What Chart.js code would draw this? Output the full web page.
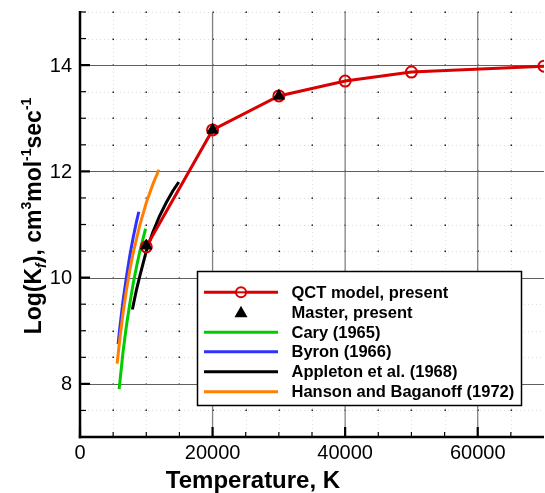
<!DOCTYPE html>
<html>
<head>
<meta charset="utf-8">
<script src="https://cdn.jsdelivr.net/npm/chart.js@4"></script>
<style>
  html, body { margin: 0; padding: 0; background: #fff; }
  #wrap { width: 545px; height: 493px; }
</style>
</head>
<body>
<div id="wrap"><canvas id="myChart" width="545" height="493"></canvas></div>
<script>
// data
const qctT = [10000, 20000, 30000, 40000, 50000, 70000];
const qctK = [10.58, 12.78, 13.42, 13.70, 13.87, 13.98];

const masterT = [10000, 20000, 30000];
const masterK = [10.60, 12.78, 13.42];

const caryT = [5900, 6500, 7000, 7500, 8000, 8500, 9000, 9500, 9900];
const caryK = [7.90, 8.61, 9.09, 9.50, 9.87, 10.19, 10.48, 10.73, 10.92];

const byronT = [5750, 6000, 6500, 7000, 7500, 8000, 8500, 8870];
const byronK = [8.75, 9.05, 9.57, 10.01, 10.40, 10.74, 11.04, 11.24];

const appletonT = [7900, 8500, 9000, 10000, 11000, 12000, 13000, 14000, 14900];
const appletonK = [9.40, 9.76, 10.02, 10.50, 10.86, 11.16, 11.41, 11.63, 11.80];

const hansonT = [5600, 6000, 6500, 7000, 7500, 8000, 9000, 10000, 11000, 11900];
const hansonK = [8.38, 8.84, 9.34, 9.76, 10.13, 10.45, 10.98, 11.41, 11.76, 12.03];

const xTicks = [0, 20000, 40000, 60000];
const yTicks = [8, 10, 12, 14];

const FONT = "'Liberation Sans', Arial, Helvetica, sans-serif";

function pts(xs, ys) {
    return xs.map((x, i) => ({ x: x, y: ys[i] }));
}

function curve(label, xs, ys, color, order) {
    return {
        label: label,
        data: pts(xs, ys),
        showLine: true,
        borderColor: color,
        borderWidth: 3,
        pointRadius: 0,
        order: order
    };
}

const datasets = [
    {
        label: 'QCT model, present',
        data: pts(qctT, qctK),
        showLine: true,
        borderColor: '#d80000',
        borderWidth: 3,
        pointStyle: 'circle',
        pointRadius: 5.5,
        pointBorderWidth: 2,
        pointBorderColor: '#d80000',
        pointBackgroundColor: 'rgba(0,0,0,0)',
        order: 1
    },
    {
        label: 'Master, present',
        data: pts(masterT, masterK),
        showLine: false,
        pointStyle: 'triangle',
        pointRadius: 6.5,
        pointBorderWidth: 1,
        pointBorderColor: '#000',
        pointBackgroundColor: '#000',
        order: 0
    },
    curve('Cary (1965)', caryT, caryK, '#00cc00', 5),
    curve('Byron (1966)', byronT, byronK, '#3030ff', 4),
    curve('Appleton et al. (1968)', appletonT, appletonK, '#000000', 3),
    curve('Hanson and Baganoff (1972)', hansonT, hansonK, '#ff8000', 2)
];

// grid, axes, ticks, titles and legend drawn by hand (Tecplot look)
const frame = {
    id: 'frame',
    beforeDatasetsDraw(chart) {
        const ctx = chart.ctx;
        const a = chart.chartArea;
        const xs = chart.scales.x, ys = chart.scales.y;
        ctx.save();
        // faint dotted minor grid
        ctx.strokeStyle = 'rgba(0,0,0,0.13)';
        ctx.lineWidth = 1;
        ctx.setLineDash([1, 3]);
        for (let v = 5000; v < 70000; v += 5000) {
            if (v % 20000 === 0) continue;
            const px = Math.round(xs.getPixelForValue(v)) + 0.5;
            ctx.beginPath(); ctx.moveTo(px, a.top); ctx.lineTo(px, a.bottom); ctx.stroke();
        }
        for (let v = 7.5; v <= 15; v += 0.5) {
            if (v % 2 === 0) continue;
            const py = Math.round(ys.getPixelForValue(v)) + 0.5;
            ctx.beginPath(); ctx.moveTo(a.left, py); ctx.lineTo(a.right, py); ctx.stroke();
        }
        ctx.setLineDash([]);
        // dots where minor lines cross
        ctx.fillStyle = '#222';
        for (let v = 5000; v < 70000; v += 5000) {
            const px = Math.round(xs.getPixelForValue(v));
            for (let w = 7.5; w <= 15; w += 0.5) {
                const py = Math.round(ys.getPixelForValue(w));
                ctx.fillRect(px - 0.5, py - 0.5, 1.5, 1.5);
            }
        }
        // major grid
        ctx.strokeStyle = '#808080';
        ctx.lineWidth = 1.3;
        xTicks.forEach(v => {
            if (v === 0) return;
            const px = xs.getPixelForValue(v);
            ctx.beginPath(); ctx.moveTo(px, a.top); ctx.lineTo(px, a.bottom); ctx.stroke();
        });
        ctx.strokeStyle = '#606060';
        ctx.lineWidth = 1;
        yTicks.forEach(v => {
            const py = Math.round(ys.getPixelForValue(v)) + 0.5;
            ctx.beginPath(); ctx.moveTo(a.left, py); ctx.lineTo(a.right, py); ctx.stroke();
        });
        ctx.restore();
    },
    afterDatasetsDraw(chart) {
        const ctx = chart.ctx;
        const a = chart.chartArea;
        const xs = chart.scales.x, ys = chart.scales.y;
        ctx.save();

        // ticks (pointing in)
        ctx.strokeStyle = '#000';
        for (let v = 0; v < 70000; v += 5000) {
            const major = v % 20000 === 0;
            const px = xs.getPixelForValue(v);
            ctx.lineWidth = major ? 2.2 : 1.2;
            ctx.beginPath(); ctx.moveTo(px, a.bottom); ctx.lineTo(px, a.bottom - (major ? 10 : 5)); ctx.stroke();
        }
        for (let v = 7; v <= 15; v += 0.5) {
            const major = v % 2 === 0;
            const py = ys.getPixelForValue(v);
            ctx.lineWidth = major ? 2.2 : 1.2;
            ctx.beginPath(); ctx.moveTo(a.left, py); ctx.lineTo(a.left + (major ? 10 : 6), py); ctx.stroke();
        }

        // axis lines
        ctx.lineWidth = 2.5;
        ctx.beginPath(); ctx.moveTo(a.left, a.top - 1); ctx.lineTo(a.left, a.bottom + 1.2); ctx.stroke();
        ctx.lineWidth = 2.6;
        ctx.beginPath(); ctx.moveTo(a.left - 1.2, a.bottom); ctx.lineTo(a.right, a.bottom); ctx.stroke();

        // tick labels
        ctx.fillStyle = '#000';
        ctx.font = '20px ' + FONT;
        ctx.textAlign = 'center';
        ctx.textBaseline = 'top';
        xTicks.forEach(v => ctx.fillText(String(v), xs.getPixelForValue(v), a.bottom + 6));
        ctx.textAlign = 'right';
        ctx.textBaseline = 'middle';
        yTicks.forEach(v => ctx.fillText(String(v), 72, ys.getPixelForValue(v) + 1));

        // x title
        ctx.font = 'bold 24px ' + FONT;
        ctx.textAlign = 'center';
        ctx.textBaseline = 'alphabetic';
        ctx.fillText('Temperature, K', 253, 488);

        // y title with sub/superscripts
        const parts = [
            { t: 'Log(K', f: 'bold 23px ', dy: 0 },
            { t: 'f', f: 'italic bold 14px ', dy: 5 },
            { t: '), cm', f: 'bold 23px ', dy: 0 },
            { t: '3', f: 'bold 14px ', dy: -10 },
            { t: 'mol', f: 'bold 23px ', dy: 0 },
            { t: '-1', f: 'bold 14px ', dy: -10 },
            { t: 'sec', f: 'bold 23px ', dy: 0 },
            { t: '-1', f: 'bold 14px ', dy: -10 }
        ];
        let total = 0;
        parts.forEach(p => { ctx.font = p.f + FONT; p.w = ctx.measureText(p.t).width; total += p.w; });
        ctx.translate(41, 216);
        ctx.rotate(-Math.PI / 2);
        ctx.textAlign = 'left';
        let cx = -total / 2;
        parts.forEach(p => {
            ctx.font = p.f + FONT;
            ctx.fillText(p.t, cx, p.dy);
            cx += p.w;
        });
        ctx.setTransform(1, 0, 0, 1, 0, 0);

        // legend box
        const bx = 197.5, by = 271.5, bw = 324, bh = 134;
        ctx.fillStyle = '#fff';
        ctx.fillRect(bx, by, bw, bh);
        ctx.strokeStyle = '#000';
        ctx.lineWidth = 1.5;
        ctx.strokeRect(bx, by, bw, bh);
        const rows = [292.3, 312.3, 332.3, 351.8, 371.8, 391.8];
        chart.data.datasets.forEach((ds, i) => {
            const y = rows[i];
            if (ds.showLine) {
                ctx.strokeStyle = ds.borderColor;
                ctx.lineWidth = 3;
                ctx.beginPath(); ctx.moveTo(204, y); ctx.lineTo(278, y); ctx.stroke();
            }
            if (ds.pointStyle === 'circle') {
                ctx.strokeStyle = ds.pointBorderColor;
                ctx.lineWidth = 2;
                ctx.fillStyle = '#fff';
                ctx.beginPath(); ctx.arc(241, y, 5, 0, Math.PI * 2); ctx.fill(); ctx.stroke();
                ctx.beginPath(); ctx.moveTo(236, y); ctx.lineTo(246, y); ctx.stroke();
            } else if (ds.pointStyle === 'triangle') {
                ctx.fillStyle = '#000';
                ctx.beginPath();
                ctx.moveTo(241, y - 6.5); ctx.lineTo(247.5, y + 5); ctx.lineTo(234.5, y + 5);
                ctx.closePath(); ctx.fill();
            }
            ctx.fillStyle = '#000';
            ctx.font = 'bold 16.5px ' + FONT;
            ctx.textAlign = 'left';
            ctx.textBaseline = 'middle';
            ctx.fillText(ds.label, 291.5, y + 1);
        });
        ctx.restore();
    }
};

new Chart(document.getElementById('myChart'), {
    type: 'scatter',
    data: { datasets: datasets },
    options: {
        responsive: false,
        animation: false,
        layout: { autoPadding: false, padding: { left: 80, top: 12, right: 1, bottom: 56 } },
        plugins: { legend: { display: false }, tooltip: { enabled: false } },
        scales: {
            x: { type: 'linear', min: 0, max: 70000, display: false },
            y: { type: 'linear', min: 7, max: 15, display: false }
        }
    },
    plugins: [frame]
});
</script>
</body>
</html>
